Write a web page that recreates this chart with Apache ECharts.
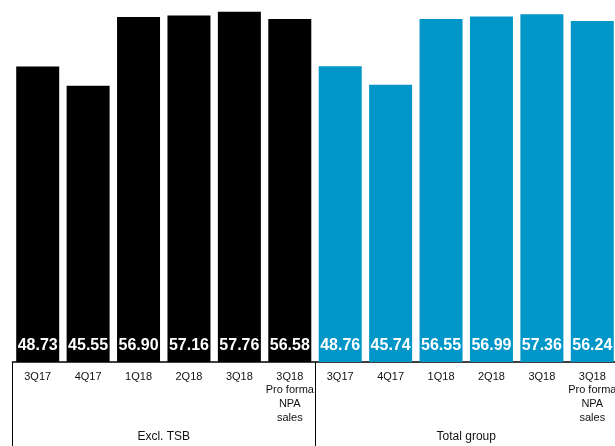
<!DOCTYPE html>
<html>
<head>
<meta charset="utf-8">
<script src="https://cdn.jsdelivr.net/npm/echarts@6/dist/echarts.min.js"></script>
<style>
  html, body { margin: 0; padding: 0; background: #fff; overflow: hidden; }
  /* the last category runs slightly past the right edge of the view */
  #chart { width: 622px; height: 446px; }
</style>
</head>
<body>
<div id="chart"></div>
<script>
// Quarter labels, one per bar
const categories = [
  '3Q17', '4Q17', '1Q18', '2Q18', '3Q18', '3Q18\nPro forma\nNPA\nsales',
  '3Q17', '4Q17', '1Q18', '2Q18', '3Q18', '3Q18\nPro forma\nNPA\nsales'
];
// Group headings under the quarters
const groups = ['Excl. TSB', 'Total group'];
// Values per group
const exclTsb = [48.73, 45.55, 56.90, 57.16, 57.76, 56.58];
const totalGroup = [48.76, 45.74, 56.55, 56.99, 57.36, 56.24];

const groupColors = ['#000000', '#0097C8'];

const data = [];
exclTsb.forEach(v => data.push({ value: v, itemStyle: { color: groupColors[0] } }));
totalGroup.forEach(v => data.push({ value: v, itemStyle: { color: groupColors[1] } }));

const font = '"Liberation Sans", Arial, sans-serif';

const chart = echarts.init(document.getElementById('chart'), null, { renderer: 'canvas' });
chart.setOption({
  animation: false,
  backgroundColor: '#ffffff',
  grid: { left: 12.5, width: 605, top: 0, bottom: 84 },
  xAxis: [
    {
      type: 'category',
      data: categories,
      position: 'bottom',
      axisLine: { show: true, lineStyle: { color: '#000', width: 1.5 } },
      axisTick: { show: false },
      axisLabel: {
        interval: 0,
        margin: 8,
        color: '#111',
        fontFamily: font,
        fontSize: 11,
        lineHeight: 13.6,
        align: 'center'
      }
    },
    {
      type: 'category',
      data: groups,
      position: 'bottom',
      axisLine: { show: false },
      axisTick: {
        show: true,
        alignWithLabel: false,
        length: 84,
        lineStyle: { color: '#000', width: 1 }
      },
      axisLabel: {
        interval: 0,
        margin: 68.5,
        color: '#111',
        fontFamily: font,
        fontSize: 12
      }
    }
  ],
  yAxis: {
    type: 'value',
    min: 0,
    max: 59.7,
    show: false,
    splitLine: { show: false }
  },
  series: [{
    type: 'bar',
    xAxisIndex: 0,
    barWidth: 43,
    data: data,
    label: {
      show: true,
      position: 'insideBottom',
      distance: 8,
      color: '#fff',
      fontFamily: font,
      fontWeight: 'bold',
      fontSize: 16,
      formatter: p => p.value.toFixed(2)
    }
  }]
});
</script>
</body>
</html>
